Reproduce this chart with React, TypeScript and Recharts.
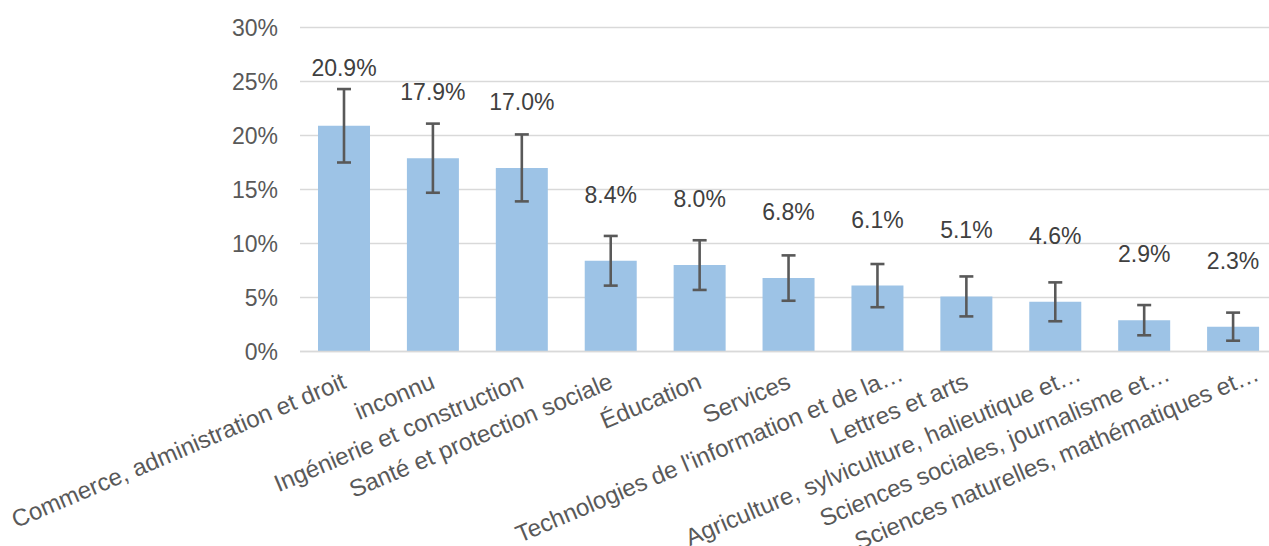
import React from "react";
import { BarChart, Bar, XAxis, YAxis, CartesianGrid, ErrorBar, LabelList } from "recharts";

const categories = [
  "Commerce, administration et droit",
  "inconnu",
  "Ingénierie et construction",
  "Santé et protection sociale",
  "Éducation",
  "Services",
  "Technologies de l'information et de la…",
  "Lettres et arts",
  "Agriculture, sylviculture, halieutique et…",
  "Sciences sociales, journalisme et…",
  "Sciences naturelles, mathématiques et…",
];
const values = [20.9, 17.9, 17.0, 8.4, 8.0, 6.8, 6.1, 5.1, 4.6, 2.9, 2.3];
const errors = [3.4, 3.2, 3.1, 2.3, 2.3, 2.1, 2.0, 1.85, 1.8, 1.4, 1.3];
const yTicks = [0, 5, 10, 15, 20, 25, 30];

const data = categories.map((name, i) => ({ name, value: values[i], err: errors[i] }));

const FONT = "'Liberation Sans', Arial, sans-serif";
const PLOT_TOP = 27.5;

const renderLabel = (props: any) => {
  const { x, y, width, value } = props;
  const cy = Math.max(Number(y) - 66, PLOT_TOP + 40);
  return (
    <text
      x={Number(x) + Number(width) / 2}
      y={cy}
      textAnchor="middle"
      dominantBaseline="central"
      fill="#404040"
      fontSize={23}
      fontFamily={FONT}
    >
      {Number(value).toFixed(1)}%
    </text>
  );
};

const CatTick = (props: any) => {
  const { x, y, payload } = props;
  const label = String(payload.value);
  const truncated = label.endsWith("…");
  const ax = Number(x) + 3 + (truncated ? 24 : 0);
  const ay = Number(y) + 36 - (truncated ? 8 : 0);
  return (
    <text
      x={ax}
      y={ay}
      transform={`rotate(-23, ${ax}, ${ay})`}
      textAnchor="end"
      fill="#595959"
      fontSize={24}
      fontFamily={FONT}
    >
      {label}
    </text>
  );
};

export default function App() {
  return (
    <div
      style={{
        position: "absolute",
        left: 0,
        top: 0,
        width: 1269,
        height: 546,
        overflow: "hidden",
        background: "#ffffff",
      }}
    >
      <BarChart
        width={1290}
        height={546}
        data={data}
        margin={{ top: PLOT_TOP, right: 12, left: 0, bottom: 0 }}
        barSize={52}
      >
        <CartesianGrid vertical={false} stroke="#D9D9D9" strokeWidth={1.3} />
        <XAxis
          dataKey="name"
          interval={0}
          height={194.5}
          tickLine={false}
          tickSize={0}
          tickMargin={0}
          axisLine={{ stroke: "#D9D9D9", strokeWidth: 1.5 }}
          tick={<CatTick />}
        />
        <YAxis
          width={300}
          domain={[0, 30]}
          ticks={yTicks}
          interval={0}
          axisLine={false}
          tickLine={false}
          tickSize={0}
          tickMargin={22}
          tickFormatter={(v: number) => `${v}%`}
          tick={{ fill: "#595959", fontSize: 23, fontFamily: FONT }}
        />
        <Bar dataKey="value" fill="#9DC3E6" isAnimationActive={false}>
          <ErrorBar
            dataKey="err"
            direction="y"
            width={7}
            stroke="#595959"
            strokeWidth={2.6}
            isAnimationActive={false}
          />
          <LabelList dataKey="value" content={renderLabel} />
        </Bar>
      </BarChart>
    </div>
  );
}
